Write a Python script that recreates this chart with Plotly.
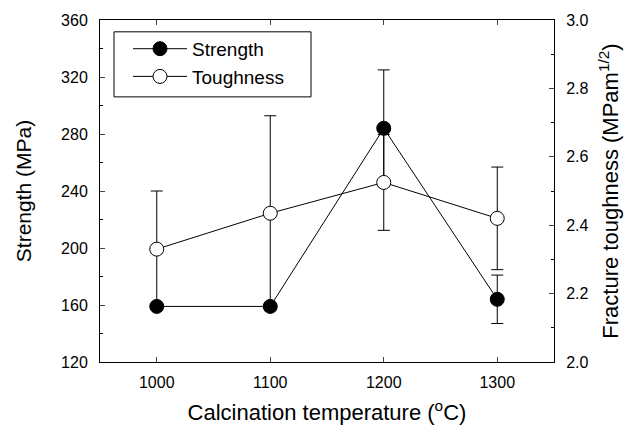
import plotly.graph_objects as go

temps = [1000, 1100, 1200, 1300]
strength = [159, 159, 284, 164]
strength_err = [2, 2, 41, 17]
toughness = [2.33, 2.435, 2.525, 2.42]
toughness_err = [0.17, 0.285, 0.14, 0.15]

FONT = "Liberation Sans, Arial, sans-serif"

fig = go.Figure()
fig.add_trace(go.Scatter(
    x=temps, y=strength, name="Strength", mode="lines+markers",
    line=dict(color="black", width=1),
    marker=dict(symbol="circle", size=14, color="black", line=dict(color="black", width=1)),
    error_y=dict(type="data", array=strength_err, visible=True, color="black", thickness=1, width=6),
    yaxis="y",
))
fig.add_trace(go.Scatter(
    x=temps, y=toughness, name="Toughness", mode="lines+markers",
    line=dict(color="black", width=1),
    marker=dict(symbol="circle", size=14, color="white", line=dict(color="black", width=1)),
    error_y=dict(type="data", array=toughness_err, visible=True, color="black", thickness=1, width=6),
    yaxis="y2",
))

W, H = 640, 434
ML, MR, MT, MB = 100, 86, 15, 72
pw, ph = W - ML - MR, H - MT - MB

def px_x(px):
    return (px - ML) / pw

def px_y(py):
    return 1 - (py - MT) / ph

# legend frame
fig.add_shape(type="rect", xref="paper", yref="paper",
              x0=px_x(114), x1=px_x(311), y0=px_y(93), y1=px_y(27),
              line=dict(color="black", width=1), fillcolor="white", layer="below")

fig.update_layout(
    width=W, height=H,
    margin=dict(l=ML, r=MR, t=MT, b=MB),
    paper_bgcolor="white", plot_bgcolor="white",
    font=dict(family=FONT, color="black", size=16),
    showlegend=True,
    legend=dict(
        x=px_x(128), y=px_y(25), xanchor="left", yanchor="top",
        bgcolor="rgba(0,0,0,0)", borderwidth=0,
        font=dict(size=19, family=FONT), tracegroupgap=0,
        itemwidth=54,
    ),
    xaxis=dict(
        range=[950, 1350], tickvals=temps, ticks="inside", ticklen=5,
        showline=True, linecolor="black", linewidth=1, mirror="ticks",
        showgrid=False, zeroline=False, ticklabelstandoff=6,
        tickfont=dict(size=16),
        title=dict(text="Calcination temperature (<sup>o</sup>C)", font=dict(size=22), standoff=14),
    ),
    yaxis=dict(
        range=[120, 360], dtick=40, ticks="inside", ticklen=5,
        minor=dict(dtick=20, ticks="inside", ticklen=3, tickcolor="black"),
        showline=True, linecolor="black", linewidth=1,
        showgrid=False, zeroline=False, ticklabelstandoff=8,
        tickfont=dict(size=16),
        title=dict(text="Strength (MPa)", font=dict(size=21), standoff=23),
    ),
    yaxis2=dict(
        overlaying="y", side="right",
        range=[2.0, 3.0], dtick=0.2, tickformat=".1f", ticks="inside", ticklen=5,
        minor=dict(dtick=0.1, ticks="inside", ticklen=3, tickcolor="black"),
        showline=True, linecolor="black", linewidth=1,
        showgrid=False, zeroline=False, ticklabelstandoff=8,
        tickfont=dict(size=16),
        title=dict(text="Fracture toughness (MPam<sup>1/2</sup>)", font=dict(size=22), standoff=15),
    ),
)

fig.write_html("out.html")
